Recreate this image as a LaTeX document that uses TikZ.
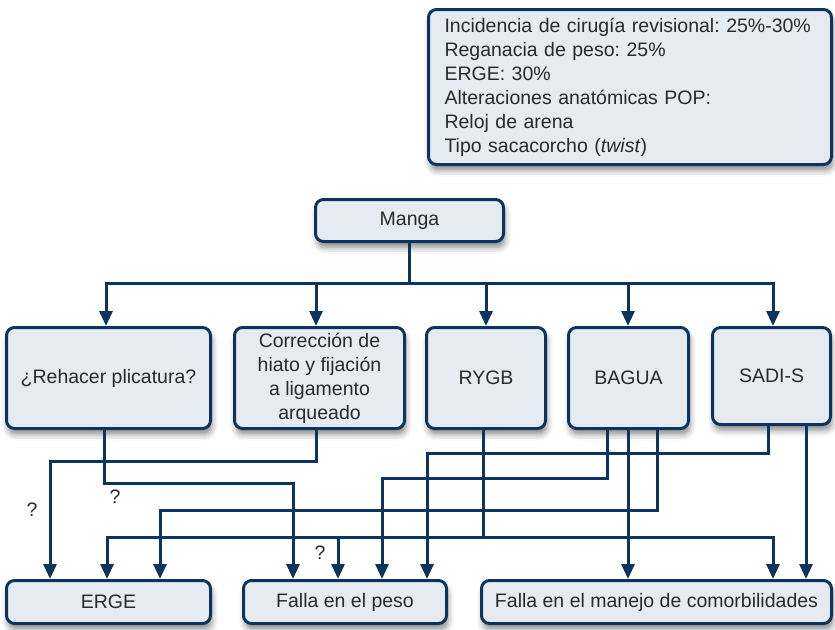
\documentclass[tikz,border=0pt]{standalone}
\usepackage{fontspec}
\setmainfont{Liberation Sans}
\frenchspacing
\usetikzlibrary{arrows.meta,shadows.blur}
\definecolor{navy}{HTML}{0B355F}
\definecolor{boxfill}{HTML}{E6EAF1}
\definecolor{txt}{HTML}{2A2A2A}
\tikzset{
  box/.style={draw=navy, line width=3pt, fill=boxfill, rounded corners=8pt,
    text=txt, align=center, inner sep=0pt,
    blur shadow={shadow xshift=1.5pt, shadow yshift=-6pt, shadow blur radius=6pt, shadow opacity=45}},
  link/.style={draw=navy, line width=3pt},
  arr/.style={link, -{Triangle[width=13pt,length=15pt]}},
  qmark/.style={text=txt, inner sep=0pt},
}
\begin{document}
\begin{tikzpicture}[x=1pt,y=-1pt, font=\fontsize{19.5}{24}\selectfont]
\useasboundingbox (0,0) rectangle (835,629);
% boxes
\node[box, minimum width=403, minimum height=155, align=left, text width=371, inner xsep=16pt] (info) at (630,87)
 {Incidencia de cirugía revisional: 25\%-30\%\\Reganacia de peso: 25\%\\ERGE: 30\%\\Alteraciones anatómicas POP:\\Reloj de arena\\Tipo sacacorcho (\textit{twist})};
\node[box, minimum width=188, minimum height=42] (manga) at (409.5,220.5) {Manga};
\node[box, minimum width=204, minimum height=101] (b1) at (108.5,378) {¿Rehacer plicatura?};
\node[box, minimum width=170, minimum height=101] (b2) at (319.5,378) {Corrección de\\hiato y fijación\\a ligamento\\arqueado};
\node[box, minimum width=119, minimum height=101] (rygb) at (486,378) {RYGB};
\node[box, minimum width=120, minimum height=101] (bagua) at (628.5,378) {BAGUA};
\node[box, minimum width=118, minimum height=97] (sadi) at (771.5,376) {SADI-S};
\node[box, minimum width=204, minimum height=43] (erge) at (108.5,602) {ERGE};
\node[box, minimum width=203, minimum height=43] (peso) at (345,602) {Falla en el peso};
\node[box, minimum width=350, minimum height=43] (manejo) at (656.5,602) {Falla en el manejo de comorbilidades};
% top distribution
\draw[arr] (manga.south) |- (106,283) -- (106,0 |- b1.north);
\draw[arr] (manga.south) |- (316,283) -- (316,0 |- b2.north);
\draw[arr] (manga.south) |- (486,283) -- (rygb.north);
\draw[arr] (manga.south) |- (628,283) -- (628,0 |- bagua.north);
\draw[arr] (manga.south) |- (773,283) -- (773,0 |- sadi.north);
% lower connectors
\draw[arr] (104,0 |- b1.south) |- (293,483) -- (293,0 |- peso.north);
\draw[arr] (316,0 |- b2.south) |- (50,461) -- (50,0 |- erge.north);
\draw[arr] (657,0 |- bagua.south) |- (160,510) -- (160,0 |- erge.north);
\draw[arr] (483,0 |- rygb.south) |- (107,537) -- (107,0 |- erge.north);
\draw[arr] (483,0 |- rygb.south) |- (338,537) -- (338,0 |- peso.north);
\draw[arr] (483,0 |- rygb.south) |- (773,537) -- (773,0 |- manejo.north);
\draw[arr] (607,0 |- bagua.south) |- (382,478) -- (382,0 |- peso.north);
\draw[arr] (768,0 |- sadi.south) |- (427,453) -- (427,0 |- peso.north);
\draw[arr] (628,0 |- bagua.south) -- (628,0 |- manejo.north);
\draw[arr] (806,0 |- sadi.south) -- (806,0 |- manejo.north);
% question marks
\node[qmark] (q1) at (32,510) {?};
\node[qmark] (q2) at (115,497) {?};
\node[qmark] (q3) at (320,553) {?};
\end{tikzpicture}
\end{document}
